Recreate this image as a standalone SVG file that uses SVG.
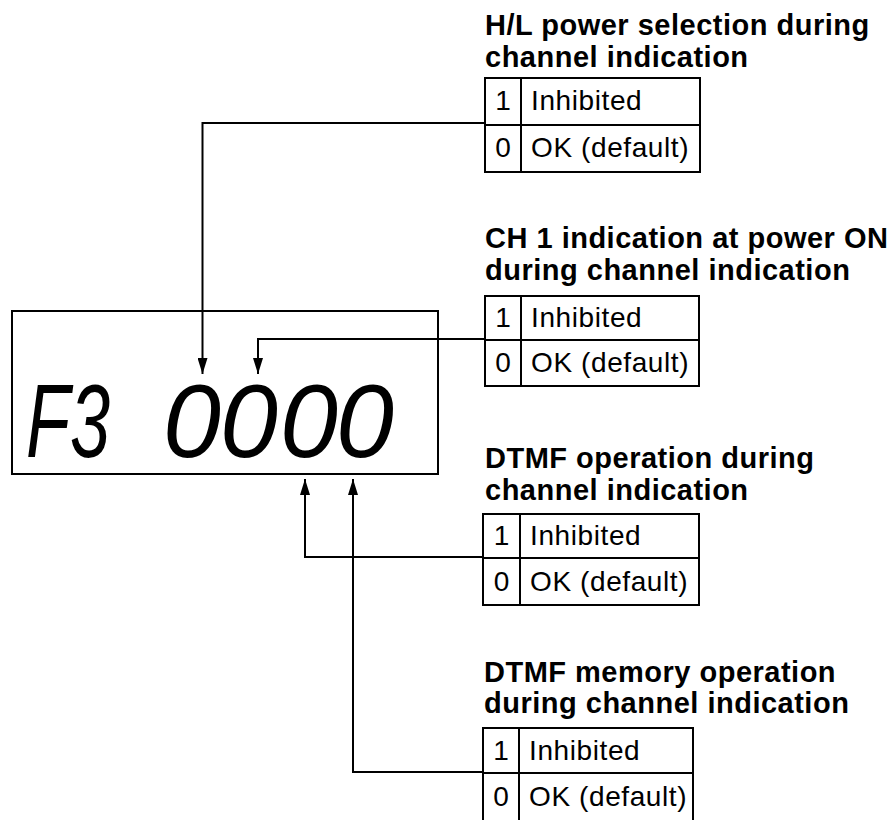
<svg xmlns="http://www.w3.org/2000/svg" width="890" height="820" viewBox="0 0 890 820">
<defs>
<style>
.title{font-family:"Liberation Sans",Arial,sans-serif;font-weight:bold;font-size:29px;letter-spacing:0.5px;fill:#000}
.cell{font-family:"Liberation Sans",Arial,sans-serif;font-size:28px;letter-spacing:0.6px;fill:#000}
.num{font-family:"Liberation Sans",Arial,sans-serif;font-size:28px;fill:#000;text-anchor:middle}
.box{fill:none;stroke:#000;stroke-width:2}
.ln{fill:none;stroke:#000;stroke-width:2}
.conn{fill:none;stroke:#000;stroke-width:2;marker-end:url(#arr)}
.lcd{font-family:"Liberation Sans",Arial,sans-serif;font-style:italic;font-size:104px;fill:#000}
</style>
<marker id="arr" viewBox="0 0 16 10" refX="16" refY="5" markerWidth="16" markerHeight="10" markerUnits="userSpaceOnUse" orient="auto">
<path d="M0,0 L16,5 L0,10 Z" fill="#000"/>
</marker>
</defs>
<rect width="890" height="820" fill="#fff"/>

<g id="display">
<rect class="box" x="12" y="311" width="426" height="163"/>
<text class="lcd" x="26" y="457" textLength="84" lengthAdjust="spacingAndGlyphs">F3</text>
<text class="lcd" x="163 220 280 336" y="457">0000</text>
</g>

<g id="connectors">
<path class="conn" d="M485,123 H202.5 V374"/>
<path class="conn" d="M485,339 H258 V374"/>
<path class="conn" d="M483,557 H305 V479"/>
<path class="conn" d="M483,772 H353 V479"/>
</g>

<g id="hl-power">
<text class="title" x="485" y="35">H/L power selection during</text>
<text class="title" x="485" y="67">channel indication</text>
<rect class="box" x="485" y="78" width="215" height="94"/>
<path class="ln" d="M485,125 H700 M521,78 V172"/>
<text class="num" x="503" y="110">1</text>
<text class="cell" x="531" y="110">Inhibited</text>
<text class="num" x="503" y="157">0</text>
<text class="cell" x="531" y="157">OK (default)</text>
</g>

<g id="ch1-power-on">
<text class="title" x="485" y="248">CH 1 indication at power ON</text>
<text class="title" x="485" y="280">during channel indication</text>
<rect class="box" x="485" y="296" width="214" height="90"/>
<path class="ln" d="M485,340 H699 M521,296 V386"/>
<text class="num" x="503" y="327">1</text>
<text class="cell" x="531" y="327">Inhibited</text>
<text class="num" x="503" y="372">0</text>
<text class="cell" x="531" y="372">OK (default)</text>
</g>

<g id="dtmf-operation">
<text class="title" x="485" y="468">DTMF operation during</text>
<text class="title" x="485" y="500">channel indication</text>
<rect class="box" x="483" y="514" width="216" height="91"/>
<path class="ln" d="M483,558 H699 M520,514 V605"/>
<text class="num" x="501.5" y="545">1</text>
<text class="cell" x="530" y="545">Inhibited</text>
<text class="num" x="501.5" y="591">0</text>
<text class="cell" x="530" y="591">OK (default)</text>
</g>

<g id="dtmf-memory">
<text class="title" x="484" y="682">DTMF memory operation</text>
<text class="title" x="484" y="713">during channel indication</text>
<rect class="box" x="483" y="728" width="210" height="96"/>
<path class="ln" d="M483,773 H693 M519,728 V824"/>
<text class="num" x="501" y="760">1</text>
<text class="cell" x="529" y="760">Inhibited</text>
<text class="num" x="501" y="806">0</text>
<text class="cell" x="529" y="806">OK (default)</text>
</g>
</svg>
